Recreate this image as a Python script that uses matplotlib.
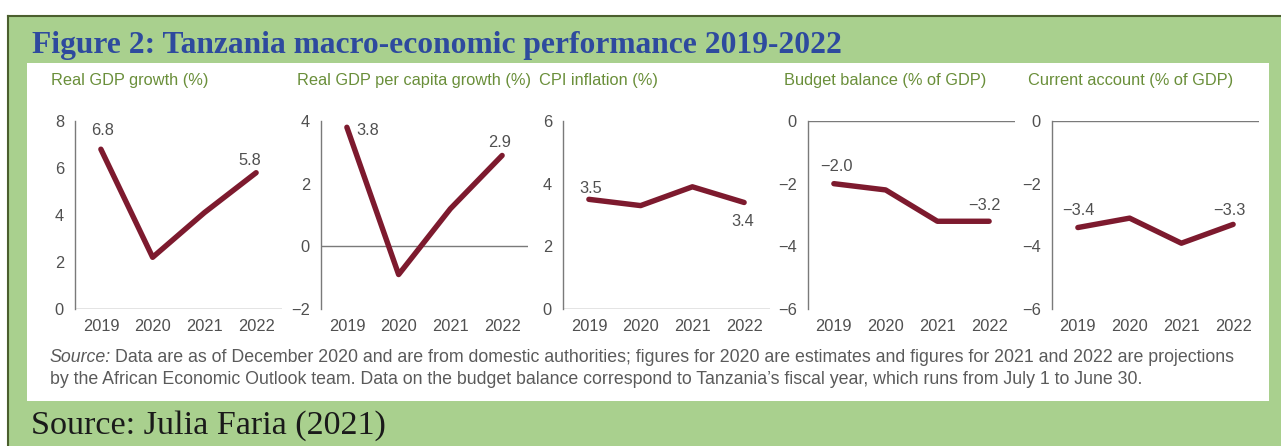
import matplotlib
matplotlib.use("Agg")
import matplotlib.pyplot as plt
from matplotlib.patches import Rectangle

# data
years = ["2019", "2020", "2021", "2022"]
gdp_growth = [6.8, 2.2, 4.1, 5.8]
gdp_pc_growth = [3.8, -0.9, 1.2, 2.9]
cpi_inflation = [3.5, 3.3, 3.9, 3.4]
budget_balance = [-2.0, -2.2, -3.2, -3.2]
current_account = [-3.4, -3.1, -3.9, -3.3]

panel_titles = ["Real GDP growth (%)", "Real GDP per capita growth (%)",
                "CPI inflation (%)", "Budget balance (% of GDP)",
                "Current account (% of GDP)"]
panel_series = [gdp_growth, gdp_pc_growth, cpi_inflation, budget_balance, current_account]
panel_ylims = [(0, 8), (-2, 4), (0, 6), (-6, 0), (-6, 0)]
panel_yticks = [[0, 2, 4, 6, 8], [-2, 0, 2, 4], [0, 2, 4, 6], [-6, -4, -2, 0], [-6, -4, -2, 0]]

# which points carry a value label, with the label offset in pixels
labels = [
    [(0, 2, 19), (3, -6, 12)],
    [(0, 21, -3), (3, -3, 13)],
    [(0, 2, 11), (3, -1, -19)],
    [(0, 3, 17), (3, -5, 16)],
    [(0, 1, 17), (3, -4, 14)],
]

W, H = 1281, 446
fig = plt.figure(figsize=(W / 100, H / 100), dpi=100)
fig.patch.set_facecolor("white")

def px(x, y):
    return x / W, 1 - y / H

green = "#a9d08e"
border = "#4b5f2e"
# green frame, white inner panel
fig.patches.append(Rectangle(px(8, 446), (W - 8) / W, (446 - 16) / H, transform=fig.transFigure,
                             facecolor=green, edgecolor="none", zorder=-3))
fig.patches.append(Rectangle(px(27, 401), (1269 - 27) / W, (401 - 63) / H, transform=fig.transFigure,
                             facecolor="white", edgecolor="none", zorder=-2))
fig.lines.append(plt.Line2D([8 / W, 1], [1 - 16 / H] * 2, transform=fig.transFigure, color=border, lw=1.5))
fig.lines.append(plt.Line2D([8 / W] * 2, [1 - 16 / H, 0], transform=fig.transFigure, color=border, lw=1.5))

fig.text(*px(32, 45), "Figure 2: Tanzania macro-economic performance 2019-2022",
         family="Liberation Serif", weight="bold", fontsize=22.7, color="#2e4a9e", va="center")

sans = ["Liberation Sans", "DejaVu Sans"]
axis_left = [75, 321, 563, 808, 1052]
ax_w = 207 / W
ax_b = 1 - 309 / H
ax_h = (309 - 121) / H
line_col = "#7d1a2e"

for i in range(5):
    ax = fig.add_axes([axis_left[i] / W, ax_b, ax_w, ax_h])
    ax.set_facecolor("none")
    xs = range(len(years))
    ax.plot(xs, panel_series[i], color=line_col, lw=3.9, solid_capstyle="round", solid_joinstyle="round",
            zorder=3)
    ax.axhline(0, color="#7a7a7a", lw=1, zorder=2)
    ax.set_xlim(-0.5, 3.5)
    ax.set_ylim(*panel_ylims[i])
    ax.set_yticks(panel_yticks[i])
    ax.set_xticks(list(xs))
    ax.set_xticklabels(years)
    for s in ["top", "right", "bottom"]:
        ax.spines[s].set_visible(False)
    ax.spines["left"].set_color("#7a7a7a")
    ax.spines["left"].set_linewidth(1)
    ax.tick_params(length=0, labelsize=11.8, labelcolor="#505050", pad=8)
    ax.tick_params(axis="x", pad=7)
    for t in ax.get_xticklabels() + ax.get_yticklabels():
        t.set_family(sans)
    for idx, dx, dy in labels[i]:
        v = panel_series[i][idx]
        ax.annotate(f"{v:.1f}".replace("-", "\u2212"), (idx, v), xytext=(dx, dy),
                    textcoords="offset pixels", ha="center", va="center",
                    fontsize=11.8, color="#505050", family=sans)
    fig.text(*px(axis_left[i] - 24, 81), panel_titles[i], family=sans, fontsize=11.8,
             color="#6a8f3a", va="center")

src1 = ("Data are as of December 2020 and are from domestic authorities; figures for 2020 are estimates "
        "and figures for 2021 and 2022 are projections")
src2 = ("by the African Economic Outlook team. Data on the budget balance correspond to Tanzania\u2019s "
        "fiscal year, which runs from July 1 to June 30.")
src_kw = dict(family=sans, fontsize=12.8, color="#5a5a5a", va="center")
t = fig.text(*px(50, 357), "Source:", style="italic", **src_kw)
r = fig.canvas.get_renderer()
x_end = t.get_window_extent(r).x1
fig.text(*px(x_end + 4, 357), src1, **src_kw)
fig.text(*px(50, 379), src2, **src_kw)

fig.text(*px(31, 426), "Source: Julia Faria (2021)", family="Liberation Serif", fontsize=24.6,
         color="#1a1a1a", va="center")

fig.savefig("out.png", dpi=100)
